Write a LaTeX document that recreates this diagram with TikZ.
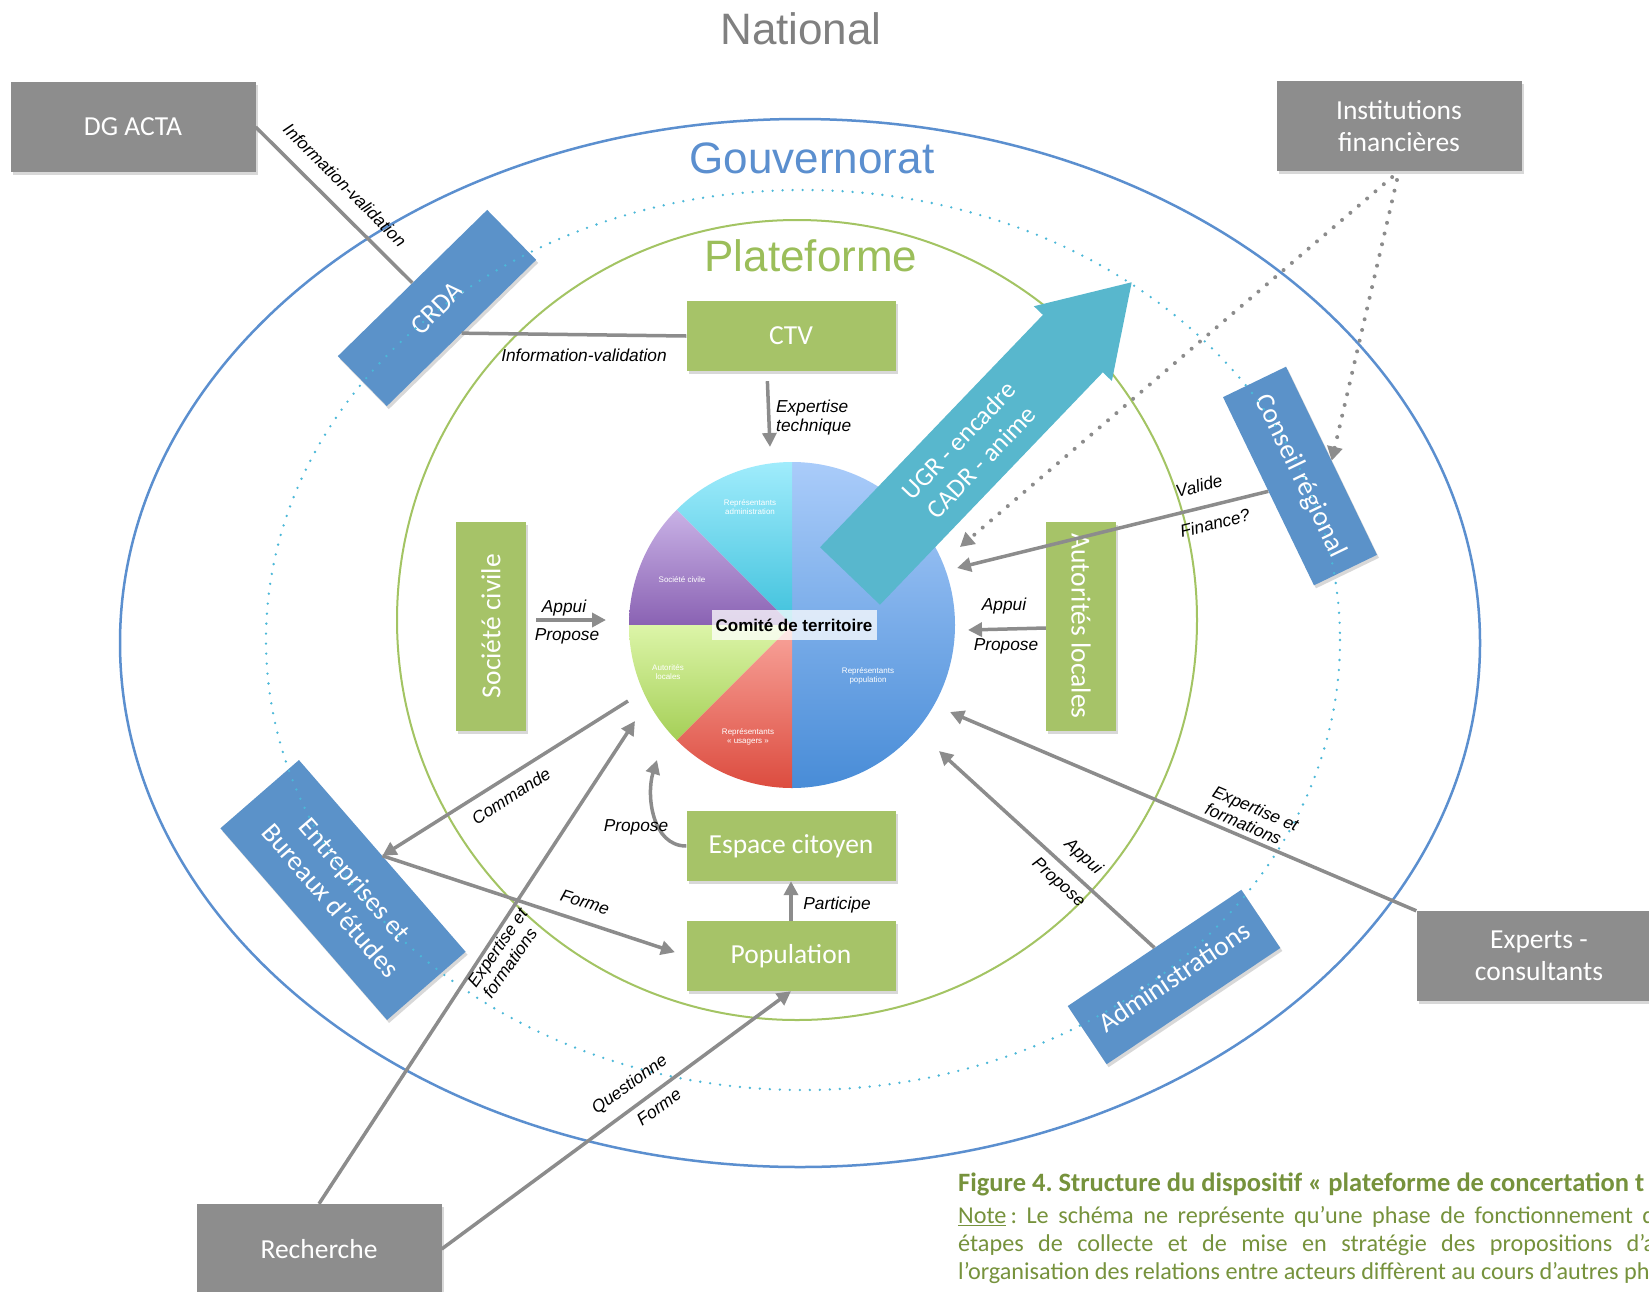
\documentclass[tikz,border=0pt]{standalone}
\usepackage{fontspec}
\usetikzlibrary{arrows.meta,shadows}
\newfontfamily\calib{Carlito}
\newfontfamily\arialf{Liberation Sans}
\definecolor{gbox}{RGB}{141,141,141}
\definecolor{grbox}{RGB}{166,195,104}
\definecolor{bbox}{RGB}{91,146,201}
\definecolor{lineg}{RGB}{140,140,140}
\definecolor{ellb}{RGB}{91,143,207}
\definecolor{ellg}{RGB}{163,196,99}
\definecolor{platg}{RGB}{155,190,90}
\definecolor{dotc}{RGB}{75,184,216}
\definecolor{ugr}{RGB}{88,183,205}
\definecolor{capg}{RGB}{118,146,60}
\definecolor{natg}{RGB}{128,128,128}
\frenchspacing
\begin{document}
\begin{tikzpicture}[x=1pt,y=-1pt,
  boxbase/.style={draw=none, text=white, font=\calib\fontsize{27.5}{32}\selectfont, align=center, inner sep=0pt,
    drop shadow={shadow xshift=2pt, shadow yshift=-3pt, opacity=0.3}},
  graybox/.style={boxbase, fill=gbox, minimum width=245pt, minimum height=90pt},
  greenbox/.style={boxbase, fill=grbox, minimum width=209pt, minimum height=70pt},
  bluebox/.style={boxbase, fill=bbox, minimum width=209pt, minimum height=70pt},
  conn/.style={draw=lineg, line width=3.5pt},
  arr/.style={conn, -{Triangle[length=14pt,width=14pt]}},
  dotarr/.style={draw=lineg, line width=4pt, line cap=round, dash pattern=on 0pt off 11pt, -{Triangle[length=14pt,width=15pt]}},
  lbl/.style={font=\arialf\itshape\fontsize{17.3}{19}\selectfont, inner sep=0pt, align=left},
  slicelbl/.style={font=\arialf\fontsize{8}{9}\selectfont, text=white, inner sep=0pt, align=center},
  title/.style={font=\arialf\fontsize{44}{50}\selectfont, inner sep=0pt},
  capline/.style={anchor=west, inner sep=0pt, text=capg, font=\calib\fontsize{24.2}{28}\selectfont}
]
\useasboundingbox (0,0) rectangle (1649,1291);
\fill[white] (0,0) rectangle (1649,1291);
\clip (0,0) rectangle (1649,1291);

% ---- ellipses
\draw[ellb, line width=2.5pt] (800,643) ellipse [x radius=680, y radius=524];
\draw[ellg, line width=2pt] (797,620) circle [radius=400];

% ---- titles
\node[title, text=natg] (national) at (801,29) {National};
\node[title, text=ellb] (gouv) at (812,158) {Gouvernorat};
\node[title, text=platg] (plat) at (811,256) {Plateforme};

% ---- pie (tikz angle = - visual angle)
\coordinate (pc) at (792,625);
\shade[top color={rgb,255:red,170;green,204;blue,250}, bottom color={rgb,255:red,72;green,140;blue,215}]
  (pc) -- ++(-90:163) arc[start angle=-90, end angle=90, radius=163] -- cycle;
\shade[top color={rgb,255:red,160;green,236;blue,252}, bottom color={rgb,255:red,63;green,193;blue,220}]
  (pc) -- ++(-90:163) arc[start angle=-90, end angle=-135, radius=163] -- cycle;
\shade[top color={rgb,255:red,201;green,178;blue,230}, bottom color={rgb,255:red,138;green,98;blue,179}]
  (pc) -- ++(-135:163) arc[start angle=-135, end angle=-180, radius=163] -- cycle;
\shade[top color={rgb,255:red,220;green,245;blue,168}, bottom color={rgb,255:red,165;green,207;blue,87}]
  (pc) -- ++(-180:163) arc[start angle=-180, end angle=-225, radius=163] -- cycle;
\shade[top color={rgb,255:red,249;green,165;blue,156}, bottom color={rgb,255:red,220;green,76;blue,63}]
  (pc) -- ++(-225:163) arc[start angle=-225, end angle=-270, radius=163] -- cycle;

\node[slicelbl] (sadm) at (750,507) {Représentants\\administration};
\node[slicelbl] (ssoc) at (682,580) {Société civile};
\node[slicelbl] (saut) at (668,672) {Autorités\\locales};
\node[slicelbl] (susa) at (748,737) {Représentants\\« usagers »};
\node[slicelbl] (spop) at (868,676) {Représentants\\population};
\node[fill=white, fill opacity=0.75, text opacity=1, minimum width=165pt, minimum height=30pt, inner sep=0pt,
  font=\arialf\bfseries\fontsize{17}{20}\selectfont] (comite) at (794,625) {Comité de territoire};

% ---- UGR arrow
\begin{scope}[shift={(850,576)}, rotate=46.2]
  \fill[ugr] (0,-41.5) -- (322,-41.5) -- (322,-54) -- (407,0) -- (322,54) -- (322,41.5) -- (0,41.5) -- cycle;
\end{scope}
\node[rotate=46.2, text=white, align=center, inner sep=0pt, font=\calib\fontsize{26}{31}\selectfont] (ugrtxt) at (970,451) {UGR - encadre\\CADR - anime};

% ---- gray boxes
\node[graybox] (dg) at (133,127) {DG ACTA};
\node[graybox] (inst) at (1399,126) {Institutions\\financières};
\node[graybox] (exp) at (1539,956) {Experts -\\consultants};
\node[graybox] (rec) at (319,1249) {Recherche};

% ---- green boxes
\node[greenbox] (ctv) at (791,336) {CTV};
\node[greenbox] (esp) at (791,846) {Espace citoyen};
\node[greenbox] (pop) at (791,956) {Population};
\node[greenbox, rotate=90] (soc) at (491,626) {Société civile};
\node[greenbox, rotate=-90] (aut) at (1081,626) {Autorités locales};

% ---- blue boxes
\node[bluebox, rotate=44.4] (crda) at (437,308) {CRDA};
\node[bluebox, rotate=-64.2] (cr) at (1300,476) {Conseil régional};
\node[bluebox, rotate=33.8] (adm) at (1174,977) {Administrations};
\node[bluebox, rotate=-49, minimum width=254pt, minimum height=104pt] (ent) at (343,890) {Entreprises et\\Bureaux d’études};

% ---- dotted ellipse
\draw[dotc, line width=2.6pt, line cap=round, dash pattern=on 0pt off 10pt] (803,640) ellipse [x radius=537, y radius=450];

% ---- connector end points near the pie
\coordinate (pCTV) at (770,447);
\coordinate (pSoc) at (606,620);
\coordinate (pAut) at (968,630);
\coordinate (pCR) at (957,568);
\coordinate (pDot) at (960,547);
\coordinate (pEsp) at (657,760);
\coordinate (pCom) at (628,701);
\coordinate (pRec) at (635,721);
\coordinate (pAdm) at (939,751);
\coordinate (pExp) at (950,712);

% ---- connectors
\draw[conn] (dg.east) -- (crda.north);
\draw[conn] (crda.south) -- (ctv.west);
\draw[arr, shorten <=10pt] ([xshift=-24pt]ctv.south) -- (pCTV);
\draw[arr, shorten <=10pt] ([yshift=6pt]soc.south) -- (pSoc);
\draw[arr] ([yshift=-2pt]aut.south) -- (pAut);
\draw[arr] (cr.south) -- (pCR);
\draw[dotarr, shorten <=9pt] (inst.south) -- (pDot);
\draw[dotarr, shorten <=9pt] (inst.south) -- (cr.north);
\draw[arr] (esp.west) .. controls (652,846) and (646,795) .. (pEsp);
\draw[arr] (pop.north) -- (esp.south);
\draw[arr, shorten >=12pt] (ent.north) -- (pop.west);
\draw[arr] (pCom) -- (ent.north);
\draw[arr] (rec.north) -- (pRec);
\draw[arr] (rec.east) -- (pop.south);
\draw[arr] (adm.north) -- (pAdm);
\draw[arr] (exp.north west) -- (pExp);

% ---- labels
\node[lbl, rotate=-45] (l1) at (345,185) {Information-validation};
\node[lbl] (l2) at (584,355) {Information-validation};
\node[lbl, anchor=west] (l3) at (776,418) {Expertise\\technique};
\node[lbl] (l4a) at (564,608) {Appui};
\node[lbl] (l4b) at (567,636) {Propose};
\node[lbl] (l5a) at (1004,606) {Appui};
\node[lbl] (l5b) at (1006,646) {Propose};
\node[lbl, rotate=14] (l6a) at (1199,486) {Valide};
\node[lbl, rotate=14] (l6b) at (1215,523) {Finance?};
\node[lbl] (l8) at (636,827) {Propose};
\node[lbl] (l9) at (837,905) {Participe};
\node[lbl, rotate=-17.5] (l10) at (585,902) {Forme};
\node[lbl, rotate=32.4] (l11) at (511,796) {Commande};
\node[lbl, rotate=55] (l12) at (505,953) {Expertise et\\formations};
\node[lbl, rotate=36] (l13a) at (630,1085) {Questionne};
\node[lbl, rotate=36] (l13b) at (659,1107) {Forme};
\node[lbl, rotate=-42] (l14a) at (1083,857) {Appui};
\node[lbl, rotate=-42] (l14b) at (1058,883) {Propose};
\node[lbl, rotate=-23] (l15) at (1252,817) {Expertise et\\formations};

% ---- caption
\node[capline, font=\calib\bfseries\fontsize{26.5}{30}\selectfont] (cap1) at (958,1184)
  {Figure 4. Structure du dispositif « plateforme de concertation t};
\node[capline] (cap2) at (958,1217)
  {\makebox[697pt][s]{\underline{Note}\,: Le schéma ne représente qu’une phase de fonctionnement d}};
\node[capline] (cap3) at (958,1245)
  {\makebox[697pt][s]{étapes de collecte et de mise en stratégie des propositions d’a}};
\node[capline] (cap4) at (958,1273)
  {l’organisation des relations entre acteurs diffèrent au cours d’autres ph};
\end{tikzpicture}
\end{document}
